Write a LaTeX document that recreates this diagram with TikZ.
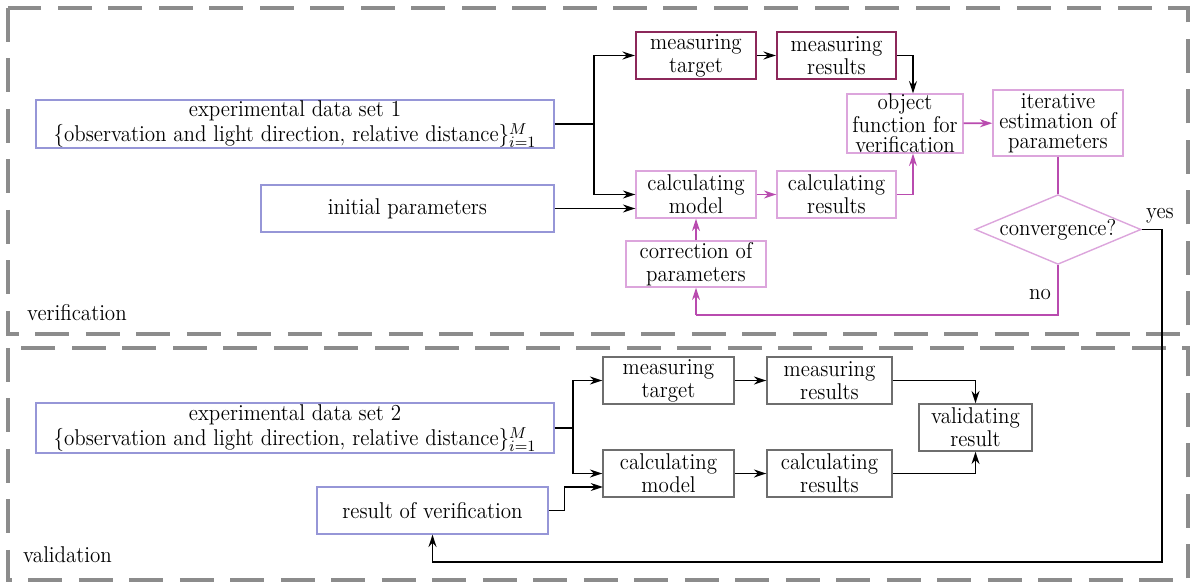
\documentclass[tikz,border=0pt]{standalone}
\usepackage{fontspec}
\setmainfont{Latin Modern Roman}[FakeStretch=0.92]
\usetikzlibrary{shapes.geometric,arrows.meta}
\definecolor{bluebd}{RGB}{150,150,215}
\definecolor{maroonbd}{RGB}{140,40,90}
\definecolor{pinkbd}{RGB}{220,165,220}
\definecolor{magln}{RGB}{185,75,175}
\definecolor{graybd}{RGB}{110,110,110}
\definecolor{framec}{RGB}{140,140,140}
\begin{document}
\begin{tikzpicture}[x=0.02cm,y=-0.02cm,font=\fontsize{13}{13}\selectfont,
  bx/.style={draw,rectangle,inner sep=0pt,align=center},
  tight/.style={font=\fontsize{13}{11.5}\selectfont},
  loose/.style={font=\fontsize{13}{14.5}\selectfont},
  blue box/.style={bx,draw=bluebd,line width=0.7pt},
  maroon box/.style={bx,draw=maroonbd,line width=1.3pt},
  pink box/.style={bx,draw=pinkbd,line width=0.8pt},
  gray box/.style={bx,draw=graybd,line width=0.8pt},
  frame/.style={draw=framec,line width=2.3pt,dash pattern=on 0.68cm off 0.33cm},
  arr/.style={line width=1pt,-{Stealth[length=7pt,width=4.5pt]}},
  marr/.style={arr,draw=magln,color=magln},
  mln/.style={line width=1pt,draw=magln},
  bln/.style={line width=1pt}]
\useasboundingbox (0,0) rectangle (1200,584);
% frames
\draw[frame] (8,8) rectangle (1188,334);
\draw[frame] (8,348) rectangle (1188,580);
\node[anchor=west] (lverif) at (21,313) {verification};
\node[anchor=west] (lvalid) at (17,555) {validation};
% verification nodes
\node[blue box,loose,minimum width=10.36cm,minimum height=0.96cm] (data1) at (295,124)
  {experimental data set 1\\\{observation and light direction, relative distance\}$^{M}_{i=1}$};
\node[blue box,minimum width=5.86cm,minimum height=0.94cm] (init) at (407.5,208.5) {initial parameters};
\node[maroon box,minimum width=2.40cm,minimum height=0.94cm] (mt1) at (696,55.5) {measuring\\target};
\node[maroon box,minimum width=2.38cm,minimum height=0.94cm] (mr1) at (836.5,55.5) {measuring\\results};
\node[pink box,tight,minimum width=2.32cm,minimum height=1.14cm] (of) at (905,123.5) {object\\function for\\verification};
\node[pink box,tight,minimum width=2.60cm,minimum height=1.32cm] (it) at (1058,123) {iterative\\estimation of\\parameters};
\node[pink box,minimum width=2.40cm,minimum height=0.94cm] (cm1) at (696,194.5) {calculating\\model};
\node[pink box,minimum width=2.38cm,minimum height=0.94cm] (cr1) at (836.5,194.5) {calculating\\results};
\node[pink box,minimum width=2.80cm,minimum height=0.92cm] (corr) at (696,264) {correction of\\parameters};
\node[draw=pinkbd,line width=0.8pt,diamond,aspect=2.38,inner sep=0pt,minimum width=3.28cm,minimum height=1.38cm] (dia) at (1058,229.5) {convergence?};
\node (yes) at (1160,216) {yes};
\node (no) at (1040,295) {no};
% validation nodes
\node[blue box,loose,minimum width=10.36cm,minimum height=1.00cm] (data2) at (295,428)
  {experimental data set 2\\\{observation and light direction, relative distance\}$^{M}_{i=1}$};
\node[blue box,minimum width=4.62cm,minimum height=0.94cm] (rov) at (432.5,510.5) {result of verification};
\node[gray box,minimum width=2.62cm,minimum height=0.94cm] (mt2) at (668.5,380.5) {measuring\\target};
\node[gray box,minimum width=2.50cm,minimum height=0.94cm] (mr2) at (829.5,380.5) {measuring\\results};
\node[gray box,minimum width=2.26cm,minimum height=0.94cm] (vr) at (975.5,427.5) {validating\\result};
\node[gray box,minimum width=2.62cm,minimum height=0.94cm] (cm2) at (668.5,473.5) {calculating\\model};
\node[gray box,minimum width=2.50cm,minimum height=0.94cm] (cr2) at (829.5,473.5) {calculating\\results};
% coordinates
\coordinate (b1) at (594,124);
\coordinate (b2) at (573,428);
\coordinate (r2) at (603,487);
\coordinate (nob) at (696,315);
\coordinate (yesc) at (1162,562);
% verification connectors
\draw[bln] (data1.east) -- (b1);
\draw[arr] (b1) |- (mt1.west);
\draw[arr] (b1) |- (cm1.west);
\draw[arr] (init.east) -- (init.east -| cm1.west);
\draw[arr] (mt1) -- (mr1);
\draw[arr] (mr1.east) -| ([xshift=0.16cm]of.north);
\draw[marr] (cm1) -- (cr1);
\draw[marr] (cr1.east) -| ([xshift=0.16cm]of.south);
\draw[marr] (of) -- (it);
\draw[mln] (it) -- (dia);
\draw[marr] (corr) -- (cm1);
\draw[mln] (dia.south) |- (nob);
\draw[marr] (nob) -- (corr.south);
\draw[arr] (dia.east) -| (yesc) -| (rov.south);
% validation connectors
\draw[bln] (data2.east) -- (b2);
\draw[arr] (b2) |- (mt2.west);
\draw[arr] (b2) |- (cm2.west);
\draw[arr] (rov.east) -- ++(16,0) |- (r2);
\draw[arr] (mt2) -- (mr2);
\draw[arr] (cm2) -- (cr2);
\draw[arr] (mr2.east) -| (vr.north);
\draw[arr] (cr2.east) -| (vr.south);
\end{tikzpicture}
\end{document}
